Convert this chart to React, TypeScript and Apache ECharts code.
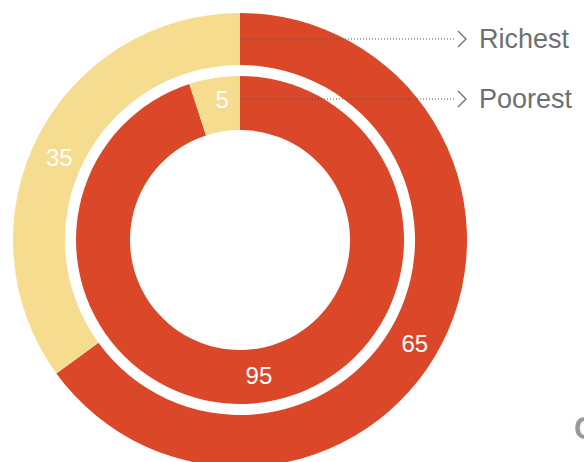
import React, { useEffect, useRef } from "react";
import * as echarts from "echarts";

const groups = ["Richest", "Poorest"];
const shareLabels = ["Red", "Yellow"];
const richestValues = [65, 35];
const poorestValues = [95, 5];
const footText = "C";

const RED = "#DA4729";
const YELLOW = "#F6DC8F";
const GREY = "#6E6F71";

export default function App() {
  const ref = useRef<HTMLDivElement>(null);
  useEffect(() => {
    if (!ref.current) return;
    const chart = echarts.init(ref.current, null, { renderer: "svg" });
    const labelStyle = {
      show: true,
      position: "inside",
      color: "#fff",
      fontSize: 24,
      fontFamily: "Liberation Sans, Arial, sans-serif",
      formatter: "{c}",
    };
    const mk = (vals: number[], offsets: number[][]) =>
      vals.map((v, i) => ({
        name: shareLabels[i],
        value: v,
        itemStyle: { color: i === 0 ? RED : YELLOW },
        label: { offset: offsets[i] },
      }));
    const cx = 240, cy = 240;
    const leader = (y: number, text: string) => [
      {
        type: "line",
        shape: { x1: cx, y1: y, x2: 456, y2: y },
        style: { stroke: "#555", lineWidth: 1, lineDash: [1, 2] },
        z: 100,
      },
      {
        type: "polyline",
        shape: { points: [[458, y - 8], [466, y], [458, y + 8]] },
        style: { stroke: GREY, lineWidth: 1.3, fill: null },
        z: 100,
      },
      {
        type: "text",
        x: 479,
        y: y,
        style: {
          text,
          fill: GREY,
          fontSize: 27,
          fontFamily: "Liberation Sans, Arial, sans-serif",
          verticalAlign: "middle",
          align: "left",
        },
        z: 100,
      },
    ];
    chart.setOption({
      animation: false,
      backgroundColor: "#fff",
      series: [
        {
          name: groups[0],
          type: "pie",
          center: [cx, cy],
          radius: [175, 227],
          startAngle: 90,
          clockwise: true,
          silent: true,
          labelLine: { show: false },
          label: labelStyle,
          data: mk(richestValues, [[-7, 11], [1, 10]]),
        },
        {
          name: groups[1],
          type: "pie",
          center: [cx, cy],
          radius: [110, 164],
          startAngle: 90,
          clockwise: true,
          silent: true,
          labelLine: { show: false },
          label: labelStyle,
          data: mk(poorestValues, [[-3, -3], [4, -2]]),
        },
      ],
      graphic: [
        ...leader(39, groups[0]),
        ...leader(99, groups[1]),
        {
          type: "text",
          x: 574,
          y: 428,
          style: {
            text: footText,
            fill: "#999",
            fontSize: 31,
            fontWeight: "bold",
            fontFamily: "Liberation Sans, Arial, sans-serif",
            verticalAlign: "middle",
            align: "left",
          },
        },
      ],
    });
    return () => chart.dispose();
  }, []);
  return (
    <div
      ref={ref}
      style={{ position: "fixed", left: 0, top: 0, width: 584, height: 462 }}
    />
  );
}
